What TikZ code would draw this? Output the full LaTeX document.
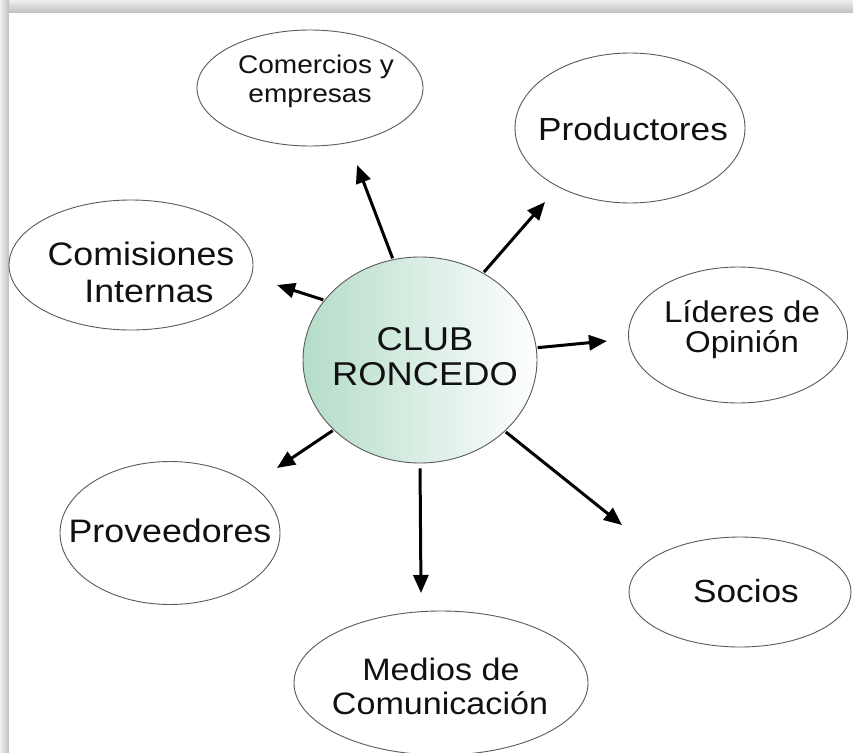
\documentclass[tikz,border=0pt]{standalone}
\usepackage{fontspec}
\setmainfont{Liberation Sans}
\usepackage{graphicx}
\usetikzlibrary{shapes.geometric,arrows.meta}
\definecolor{txt}{HTML}{111111}
\definecolor{edgegray}{HTML}{5A5A5A}
\definecolor{clubgreen}{HTML}{B4DCC9}
\tikzset{
  bubble/.style={ellipse, draw=edgegray, line width=0.9pt, inner sep=0pt, fill=white},
  lbl/.style={anchor=base, inner sep=0pt, text=txt},
  link/.style={line width=3pt, -{Triangle[length=18pt,width=15pt]}, shorten <=1pt},
}
\newcommand{\wtxt}[2]{{\fontsize{#1}{#1}\selectfont\scalebox{1.1}[1]{#2}}}
\begin{document}
\begin{tikzpicture}[x=1pt,y=-1pt]
\useasboundingbox (0,0) rectangle (853,752);
\clip (0,0) rectangle (853,752);
% frame and its shadow
\shade[top color=gray!12, bottom color=gray!50] (0,0) rectangle (853,13);
\shade[left color=gray!12, right color=gray!50] (0,0) rectangle (9,752);
\fill[white] (9,13) rectangle (853,752);

% satellite ellipses
\node[bubble, minimum width=226, minimum height=116] (comercios) at (310,88) {};
\node[bubble, minimum width=230, minimum height=150] (productores) at (630,128) {};
\node[bubble, minimum width=244, minimum height=130] (comisiones) at (131,265) {};
\node[bubble, minimum width=219, minimum height=136] (lideres) at (738,335) {};
\node[bubble, minimum width=220, minimum height=143] (proveedores) at (170,533) {};
\node[bubble, minimum width=222, minimum height=110] (socios) at (740,592) {};
\node[bubble, minimum width=294, minimum height=144] (medios) at (441,683) {};

% central ellipse
\node[ellipse, draw=edgegray, line width=0.9pt, inner sep=0pt,
      left color=clubgreen, right color=white,
      minimum width=234, minimum height=206] (club) at (420,360) {};

% labels
\node[lbl] (comercios1) at (316,73) {\wtxt{25.5}{Comercios y}};
\node[lbl] (comercios2) at (310,102) {\wtxt{25.5}{empresas}};
\node[lbl] (productores1) at (633,140) {\wtxt{32}{Productores}};
\node[lbl] (comisiones1) at (141,265) {\wtxt{32.5}{Comisiones}};
\node[lbl] (comisiones2) at (149,302) {\wtxt{32.5}{Internas}};
\node[lbl] (lideres1) at (742,322) {\wtxt{30}{Líderes de}};
\node[lbl] (lideres2) at (742,352) {\wtxt{30}{Opinión}};
\node[lbl] (proveedores1) at (170,542) {\wtxt{32.5}{Proveedores}};
\node[lbl] (socios1) at (746,602) {\wtxt{32}{Socios}};
\node[lbl] (medios1) at (441,680) {\wtxt{31}{Medios de}};
\node[lbl] (medios2) at (440,714) {\wtxt{31}{Comunicación}};
\node[lbl] (club1) at (425,350) {\wtxt{33}{CLUB}};
\node[lbl] (club2) at (425,385) {\wtxt{33}{RONCEDO}};

% arrow tips
\coordinate (t1) at (357,165);
\coordinate (t2) at (545,202);
\coordinate (t3) at (277,285);
\coordinate (t4) at (607,341);
\coordinate (t5) at (277,468);
\coordinate (t6) at (421,593);
\coordinate (t7) at (622,525);

% connectors
\draw[link] (club.105.4) -- (t1);
\draw[link] (club.54.8) -- (t2);
\draw[link] (club.148.5) -- (t3);
\draw[link] (club.6.4) -- (t4);
\draw[link] (club.219.7) -- (t5);
\draw[link, shorten <=5pt] (club.270) -- (t6);
\draw[link] (club.320.6) -- (t7);
\end{tikzpicture}
\end{document}
